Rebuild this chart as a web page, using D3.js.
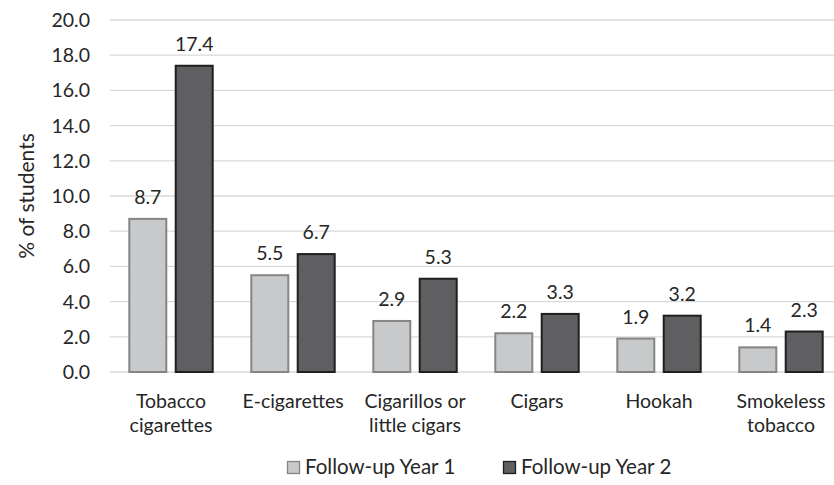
<!DOCTYPE html>
<html>
<head>
<meta charset="utf-8">
<script src="https://cdn.jsdelivr.net/npm/d3@7"></script>
<style>
  body { margin: 0; background: #fff; }
  text { font-family: Lato, "Open Sans", sans-serif; fill: #262626; }
</style>
</head>
<body>
<svg width="834" height="485"></svg>
<script>
var categories = [["Tobacco", "cigarettes"], ["E-cigarettes"], ["Cigarillos or", "little cigars"], ["Cigars"], ["Hookah"], ["Smokeless", "tobacco"]];
var series = ["Follow-up Year 1", "Follow-up Year 2"];
var year1 = [8.7, 5.5, 2.9, 2.2, 1.9, 1.4];
var year2 = [17.4, 6.7, 5.3, 3.3, 3.2, 2.3];
var yTicks = [0, 2, 4, 6, 8, 10, 12, 14, 16, 18, 20];

var fills = ["#c8c9cb", "#5f5f61"];
var strokes = ["#858585", "#1f1f1f"];

var svg = d3.select("svg");
var g = svg.append("g");

var x = d3.scaleBand().domain(d3.range(categories.length)).range([110, 842]).paddingInner(0.3).paddingOuter(0.15);
var x1 = d3.scaleBand().domain([0, 1]).range([0, x.bandwidth()]).paddingInner(0.16);
var y = d3.scaleLinear().domain([0, 20]).range([372, 20]);

// gridlines
g.selectAll("line.grid").data(yTicks).enter().append("line")
  .attr("x1", 110).attr("x2", 834)
  .attr("y1", d => y(d)).attr("y2", d => y(d))
  .attr("stroke", "#d9d9d9").attr("stroke-width", 1.3);

// y tick labels
g.selectAll("text.ytick").data(yTicks).enter().append("text")
  .attr("x", 90).attr("y", d => y(d)).attr("dy", "0.36em")
  .attr("text-anchor", "end").attr("font-size", 19.5)
  .text(d => d.toFixed(1));

// y title
svg.append("text")
  .attr("transform", "translate(34,196) rotate(-90)")
  .attr("text-anchor", "middle").attr("font-size", 21)
  .text("% of students");

var data = categories.map((c, i) => ({ i: i, vals: [year1[i], year2[i]] }));

var groups = g.selectAll("g.cat").data(data).enter().append("g")
  .attr("transform", d => "translate(" + x(d.i) + ",0)");

groups.selectAll("rect").data(d => d.vals.map((v, s) => ({ v: v, s: s }))).enter().append("rect")
  .attr("x", d => x1(d.s) + 1)
  .attr("width", x1.bandwidth() - 2)
  .attr("y", d => y(d.v))
  .attr("height", d => y(0) - y(d.v))
  .attr("fill", d => fills[d.s])
  .attr("stroke", d => strokes[d.s])
  .attr("stroke-width", 2);

groups.selectAll("text.val").data(d => d.vals.map((v, s) => ({ v: v, s: s }))).enter().append("text")
  .attr("x", d => x1(d.s) + x1.bandwidth() / 2)
  .attr("y", d => y(d.v) - 15)
  .attr("text-anchor", "middle").attr("font-size", 19.5)
  .text(d => d.v.toFixed(1));

// category labels
groups.each(function (d) {
  var t = d3.select(this).append("text")
    .attr("x", x.bandwidth() / 2).attr("y", 408)
    .attr("text-anchor", "middle").attr("font-size", 19.5);
  categories[d.i].forEach((line, k) => {
    t.append("tspan").attr("x", x.bandwidth() / 2).attr("dy", k === 0 ? 0 : 24).text(line);
  });
});

// legend
var legendX = [287, 503];
var lg = svg.selectAll("g.leg").data(series).enter().append("g")
  .attr("transform", (d, i) => "translate(" + legendX[i] + ",461)");
lg.append("rect").attr("x", 0.5).attr("y", 0.5).attr("width", 12).attr("height", 12)
  .attr("fill", (d, i) => fills[i]).attr("stroke", (d, i) => strokes[i]).attr("stroke-width", 1.3);
lg.append("text").attr("x", 18).attr("y", 13).attr("font-size", 20.5).text(d => d);
</script>
</body>
</html>
